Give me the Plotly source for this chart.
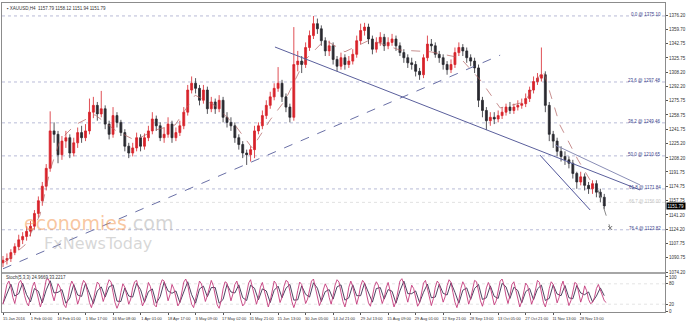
import plotly.graph_objects as go

# ---------------- data ----------------
opens = [1085, 1088, 1090, 1097, 1104, 1112, 1116,
         1122, 1128, 1143, 1158, 1175, 1196, 1240,
         1236, 1212, 1228, 1232, 1214, 1226, 1238,
         1232, 1240, 1262, 1270, 1260, 1266, 1248,
         1236, 1258, 1250, 1238, 1222, 1214, 1220,
         1232, 1222, 1232, 1240, 1254, 1246, 1232,
         1236, 1248, 1232, 1238, 1246, 1262, 1288,
         1296, 1290, 1276, 1288, 1266, 1274, 1266,
         1276, 1256, 1250, 1246, 1232, 1224, 1214,
         1212, 1218, 1240, 1246, 1258, 1270, 1280,
         1290, 1296, 1280, 1268, 1256, 1318, 1322,
         1318, 1338, 1352, 1366, 1360, 1346, 1334,
         1340, 1324, 1316, 1326, 1318, 1322, 1330,
         1346, 1358, 1362, 1348, 1336, 1344, 1350,
         1340, 1344, 1348, 1340, 1332, 1326, 1320,
         1318, 1310, 1306, 1326, 1342, 1340, 1330,
         1326, 1318, 1312, 1318, 1332, 1338, 1334,
         1326, 1322, 1314, 1276, 1264, 1252, 1256,
         1254, 1258, 1262, 1268, 1264, 1268, 1270,
         1272, 1278, 1288, 1298, 1302, 1306, 1270,
         1236, 1228, 1216, 1210, 1206, 1202, 1190,
         1180, 1186, 1176, 1172, 1178, 1168, 1162]

highs = [1093, 1096, 1101, 1108, 1118, 1121, 1128,
         1134, 1147, 1163, 1180, 1201, 1263, 1250,
         1240, 1234, 1240, 1236, 1232, 1244, 1246,
         1248, 1278, 1280, 1274, 1287, 1270, 1252,
         1268, 1262, 1253, 1242, 1226, 1226, 1238,
         1236, 1237, 1246, 1262, 1258, 1250, 1244,
         1256, 1252, 1244, 1252, 1268, 1294, 1304,
         1302, 1294, 1294, 1292, 1280, 1278, 1282,
         1280, 1262, 1256, 1250, 1236, 1228, 1218,
         1222, 1246, 1250, 1264, 1276, 1286, 1296,
         1315, 1300, 1284, 1272, 1362, 1334, 1328,
         1344, 1358, 1375, 1372, 1364, 1350, 1346,
         1344, 1328, 1332, 1330, 1328, 1336, 1352,
         1366, 1367, 1366, 1352, 1350, 1356, 1354,
         1350, 1354, 1352, 1344, 1336, 1330, 1326,
         1322, 1314, 1330, 1352, 1348, 1344, 1334,
         1330, 1322, 1324, 1338, 1344, 1342, 1338,
         1330, 1326, 1318, 1280, 1268, 1262, 1262,
         1264, 1268, 1272, 1274, 1272, 1276, 1278,
         1284, 1292, 1304, 1308, 1338, 1310, 1274,
         1240, 1232, 1222, 1216, 1210, 1206, 1192,
         1192, 1190, 1180, 1182, 1182, 1172, 1166]

lows = [1080, 1083, 1086, 1094, 1100, 1107, 1111,
        1116, 1124, 1138, 1152, 1170, 1192, 1226,
        1202, 1206, 1220, 1208, 1210, 1220, 1226,
        1228, 1236, 1255, 1252, 1256, 1242, 1230,
        1232, 1244, 1234, 1216, 1208, 1210, 1216,
        1216, 1218, 1228, 1236, 1240, 1228, 1226,
        1232, 1226, 1228, 1234, 1242, 1258, 1284,
        1284, 1270, 1272, 1260, 1262, 1260, 1262,
        1250, 1244, 1240, 1226, 1218, 1208, 1200,
        1204, 1208, 1236, 1242, 1254, 1266, 1276,
        1286, 1274, 1262, 1250, 1252, 1310, 1308,
        1314, 1334, 1348, 1354, 1340, 1328, 1328,
        1318, 1310, 1312, 1312, 1314, 1318, 1326,
        1342, 1352, 1342, 1330, 1332, 1340, 1334,
        1336, 1340, 1334, 1328, 1320, 1314, 1312,
        1304, 1300, 1302, 1322, 1334, 1326, 1320,
        1312, 1306, 1308, 1314, 1328, 1328, 1320,
        1316, 1308, 1268, 1256, 1241, 1246, 1248,
        1250, 1254, 1258, 1260, 1260, 1264, 1266,
        1268, 1274, 1284, 1294, 1298, 1262, 1228,
        1220, 1210, 1204, 1200, 1196, 1184, 1172,
        1176, 1170, 1166, 1166, 1162, 1156, 1148]

closes = [1088, 1090, 1097, 1104, 1112, 1116, 1122,
          1128, 1143, 1158, 1175, 1196, 1240, 1236,
          1212, 1228, 1232, 1214, 1226, 1238, 1232,
          1240, 1262, 1270, 1260, 1266, 1248, 1236,
          1258, 1250, 1238, 1222, 1214, 1220, 1232,
          1222, 1232, 1240, 1254, 1246, 1232, 1236,
          1248, 1232, 1238, 1246, 1262, 1288, 1296,
          1290, 1276, 1288, 1266, 1274, 1266, 1276,
          1256, 1250, 1246, 1232, 1224, 1214, 1212,
          1218, 1240, 1246, 1258, 1270, 1280, 1290,
          1296, 1280, 1268, 1256, 1318, 1322, 1318,
          1338, 1352, 1366, 1360, 1346, 1334, 1340,
          1324, 1316, 1326, 1318, 1322, 1330, 1346,
          1358, 1362, 1348, 1336, 1344, 1350, 1340,
          1344, 1348, 1340, 1332, 1326, 1320, 1318,
          1310, 1306, 1326, 1342, 1340, 1330, 1326,
          1318, 1312, 1318, 1332, 1338, 1334, 1326,
          1322, 1314, 1276, 1264, 1252, 1256, 1254,
          1258, 1262, 1268, 1264, 1268, 1270, 1272,
          1278, 1288, 1298, 1302, 1306, 1270, 1236,
          1228, 1216, 1210, 1206, 1202, 1190, 1180,
          1186, 1176, 1172, 1178, 1168, 1162, 1151.79]

tick_labels = ["15 Jan 2016", "1 Feb 00:00", "16 Feb 01:00", "1 Mar 17:00", "16 Mar 08:00",
               "1 Apr 01:00", "18 Apr 17:00", "3 May 09:00", "17 May 02:00", "31 May 21:00",
               "15 Jun 13:00", "30 Jun 05:00", "14 Jul 21:00", "29 Jul 13:00", "15 Aug 09:00",
               "29 Aug 01:00", "12 Sep 21:00", "28 Sep 13:00", "13 Oct 05:00", "27 Oct 21:00",
               "11 Nov 13:00", "28 Nov 13:00"]
bars_per_label = 7

price_ticks = [1376.20, 1359.70, 1342.75, 1325.75, 1308.20, 1292.20, 1275.75, 1258.75,
               1241.75, 1225.20, 1208.20, 1191.75, 1174.75, 1157.75, 1141.20, 1124.20,
               1107.75, 1090.75, 1074.20]

fib_names = ["0.0", "23.6", "38.2", "50.0", "61.8", "76.4"]
fib_values = [1375.10, 1297.48, 1249.46, 1210.65, 1171.84, 1123.82]
aux_level_name = "66.7"
aux_level_value = 1156.0
last_price = 1151.79

# drawn objects (bar index, price)
up_trend_x = [0, 126.5]
up_trend_y = [1078.0, 1329.0]
down_trend_x = [69.2, 162.1]
down_trend_y = [1338.6, 1170.6]
wedge_top_x = [140.5, 162.1]
wedge_top_y = [1223.4, 1176.5]
wedge_bot_x = [136.6, 149.4]
wedge_bot_y = [1211.7, 1147.1]
target_x = [151.4, 154.5]
target_y = [1170.6, 1125.9]
swing_x = [0.5, 5.6, 9.4, 12, 14.5, 18.3, 23.4, 28.5, 33.6, 38.7, 43.8, 48.9, 53.9, 59,
           63.4, 68, 71.8, 76.8, 81.9, 87, 93.4, 101, 108.7, 116.3, 121.4, 126.5, 132.8,
           137.4, 141.7, 146.3, 150.6]
swing_y = [1086, 1106, 1141, 1194, 1229, 1247, 1259, 1241, 1229, 1241, 1247, 1282, 1270, 1247,
           1220, 1253, 1276, 1323, 1347, 1333, 1347, 1335, 1333, 1326, 1300, 1267, 1274,
           1312, 1247, 1206, 1173]

stoch_main = [20, 45, 78, 88, 70, 40, 22, 50, 82, 90,
              75, 45, 25, 15, 40, 72, 85, 60, 30, 12,
              30, 65, 92, 95, 80, 50, 30, 55, 80, 70,
              40, 18, 10, 35, 70, 88, 76, 45, 20, 38,
              72, 90, 82, 55, 25, 10, 30, 62, 85, 78,
              50, 28, 45, 75, 92, 85, 55, 25, 8, 22,
              55, 80, 70, 42, 20, 35, 68, 86, 90, 65,
              35, 15, 28, 60, 84, 72, 40, 18, 12, 40,
              75, 92, 88, 60, 30, 48, 78, 65, 35, 15,
              25, 58, 85, 94, 78, 45, 20, 10, 38, 70,
              88, 80, 52, 28, 45, 72, 90, 75, 42, 18,
              8, 30, 65, 86, 82, 55, 30, 50, 78, 88,
              66, 35, 15, 22, 55, 82, 92, 70, 40, 20,
              40, 70, 84, 62, 32, 12, 30, 64, 88, 80,
              52, 25, 40, 72, 90, 86, 58, 28, 10, 28,
              60, 85, 78, 48, 22, 35, 66, 88, 94, 70,
              38, 16, 30, 62, 80, 68, 40, 20, 45, 76,
              92, 85, 55, 28, 12, 35, 70, 88, 72, 44,
              20, 42, 74, 90, 82, 50, 24, 14, 40, 72,
              86, 76, 46, 22, 38, 68, 84, 60, 30, 12,
              28, 62, 88, 95, 80, 48, 26, 50, 76, 66,
              36, 14, 24, 58, 82, 90, 66, 34, 16, 36,
              70, 88, 80, 50, 26, 42, 74, 92, 84, 54,
              26, 10, 32, 66, 86, 74, 44, 20, 38, 70,
              90, 86, 58, 30, 14, 36, 68, 84, 70, 40,
              18, 30, 62, 88, 94, 76, 44, 22, 46, 78,
              86, 62, 32, 12, 28, 60, 82, 74, 42, 20,
              36, 68, 90, 84, 54, 26, 12, 34, 66, 86,
              78, 48, 24, 40, 72, 88, 66, 36, 16, 30,
              62, 84, 80, 52, 26, 44, 74, 60, 34, 22,
              25, 40, 66, 78, 60, 44, 30, 25]

stoch_signal = [22, 48, 79, 44, 51, 82, 48, 27, 66, 58,
                24, 62, 89, 53, 55, 63, 23, 38, 78, 47,
                43, 81, 54, 22, 59, 71, 41, 71, 77, 29,
                28, 68, 44, 41, 81, 63, 26, 57, 65, 23,
                42, 85, 59, 52, 59, 25, 56, 86, 48, 23,
                65, 73, 42, 69, 69, 23, 34, 78, 56, 53,
                77, 39, 31, 76, 67, 33, 65, 59, 25, 61,
                73, 39, 67, 78, 32, 33, 74, 49, 41, 83,
                67, 28, 57, 63, 35, 71, 77, 32, 39, 77,
                45, 45, 82, 52, 26, 66, 69, 35, 63, 58,
                23, 59, 88, 51, 51, 59, 25, 55, 79, 39,
                41, 79, 52, 47, 83, 55, 23, 61, 68, 34,
                66, 78, 34, 39, 74, 43, 37, 81, 71, 37,
                70, 60, 24, 57, 66, 33, 65, 76, 31, 37,
                77, 50, 45, 75, 39, 36, 75, 53, 48, 56,
                27, 44, 68, 45]

stoch_label = "Stoch(5,3,3) 24.9669 33.2217"
header_label = "\u25aa XAUUSD,H4  1157.79 1158.12 1151.94 1151.79"

# ---------------- figure ----------------
bars = list(range(len(closes)))
stoch_x = [i * 0.5 for i in range(len(stoch_main))]
signal_x = list(range(len(stoch_signal)))
tick_pos = [bars_per_label * k for k in range(len(tick_labels))]

W, H = 698, 327
ML, MR, MT, MB = 2, 33, 3, 15
plot_h = H - MT - MB
plot_w = W - ML - MR
main_bottom = (H - MB - 272) / plot_h
osc_top = (H - MB - 274) / plot_h

x_range = [-0.254, 168.45]
y_range = [1074.2, 1390.3]
osc_range = [-2.9, 108.8]

fig = go.Figure()

fig.add_trace(go.Candlestick(
    x=bars, open=opens, high=highs, low=lows, close=closes,
    increasing=dict(line=dict(color="#d8232b", width=0.8), fillcolor="#d8232b"),
    decreasing=dict(line=dict(color="#2a2a30", width=0.8), fillcolor="#2a2a30"),
    whiskerwidth=0, xaxis="x", yaxis="y", showlegend=False, hoverinfo="skip"))

line_traces = [
    (swing_x, swing_y, "#b06060", "dash", 0.7),
    (up_trend_x, up_trend_y, "#6a70a6", "dash", 1),
    (down_trend_x, down_trend_y, "#5a5f9c", "solid", 1),
    (wedge_top_x, wedge_top_y, "#8a8eb6", "solid", 1),
    (wedge_bot_x, wedge_bot_y, "#50559a", "solid", 1),
    (target_x, target_y, "#8a8a8a", "dash", 1),
]
for xs, ys, col, dash, w in line_traces:
    fig.add_trace(go.Scatter(x=xs, y=ys, mode="lines", line=dict(color=col, dash=dash, width=w),
                             xaxis="x", yaxis="y", showlegend=False, hoverinfo="skip"))
fig.add_trace(go.Scatter(x=target_x[-1:], y=target_y[-1:], mode="markers",
                         marker=dict(symbol="x-thin", size=4, line=dict(color="#777", width=1)),
                         xaxis="x", yaxis="y", showlegend=False, hoverinfo="skip"))

fig.add_trace(go.Scatter(x=signal_x, y=stoch_signal, mode="lines",
                         line=dict(color="#3a3050", width=0.9), xaxis="x2", yaxis="y2",
                         showlegend=False, hoverinfo="skip"))
fig.add_trace(go.Scatter(x=stoch_x, y=stoch_main, mode="lines",
                         line=dict(color="#c43a7c", width=0.9), xaxis="x2", yaxis="y2",
                         showlegend=False, hoverinfo="skip"))

shapes = []
annotations = []
for name, val in zip(fib_names, fib_values):
    shapes.append(dict(type="line", xref="paper", x0=0, x1=1, yref="y", y0=val, y1=val,
                       line=dict(color="#9a9ec6", width=0.7, dash="dot"), layer="below"))
    annotations.append(dict(xref="paper", x=0.997, xanchor="right", yref="y", y=val,
                            yanchor="middle", yshift=1, text=f"{name} @ {val:.2f}",
                            showarrow=False, font=dict(size=4.5, color="#3b3f8c")))
shapes.append(dict(type="line", xref="paper", x0=0, x1=1, yref="y", y0=aux_level_value,
                   y1=aux_level_value, line=dict(color="#d4d4d4", width=0.7, dash="dot"),
                   layer="below"))
annotations.append(dict(xref="paper", x=0.997, xanchor="right", yref="y", y=aux_level_value,
                        yanchor="middle", yshift=1,
                        text=f"{aux_level_name} @ {aux_level_value:.2f}", showarrow=False,
                        font=dict(size=4.5, color="#c4c4c4")))
for lvl in (20, 80):
    shapes.append(dict(type="line", xref="paper", x0=0, x1=1, yref="y2", y0=lvl, y1=lvl,
                       line=dict(color="#d8d8d8", width=0.7, dash="dot"), layer="below"))
# separator between panels
shapes.append(dict(type="rect", xref="paper", x0=0, x1=1, yref="paper", y0=osc_top,
                   y1=main_bottom, fillcolor="#a6a6a6", line=dict(width=0)))

annotations.append(dict(xref="paper", x=1, xanchor="left", xshift=1, yref="y", y=last_price,
                        yanchor="middle", text=f"{last_price:.2f}", showarrow=False,
                        bgcolor="#000000", borderpad=0.6,
                        font=dict(size=4.5, color="#ffffff")))
annotations.append(dict(xref="paper", x=0.004, xanchor="left", yref="paper",
                        y=(H - MB - 9) / plot_h, yanchor="middle", text=header_label,
                        showarrow=False, font=dict(size=4.5, color="#333333")))
annotations.append(dict(xref="paper", x=0.003, xanchor="left", yref="paper",
                        y=(H - MB - 277) / plot_h, yanchor="middle", text=stoch_label,
                        showarrow=False, font=dict(size=4.5, color="#333333")))
annotations.append(dict(xref="paper", x=(98.5 - ML) / plot_w, xanchor="center",
                        yref="paper", y=(H - MB - 223) / plot_h, yanchor="middle",
                        text="<span style='color:rgba(243,150,80,0.55)'>economies</span>"
                             "<span style='color:rgba(170,170,170,0.5)'>.com</span>",
                        showarrow=False, font=dict(size=19, family="DejaVu Sans, Arial")))
annotations.append(dict(xref="paper", x=(98 - ML) / plot_w, xanchor="center",
                        yref="paper", y=(H - MB - 244) / plot_h, yanchor="middle",
                        text="FxNewsToday", showarrow=False,
                        font=dict(size=16, color="rgba(175,175,175,0.5)",
                                  family="DejaVu Sans, Arial")))

axis_common = dict(showgrid=False, zeroline=False, showline=True, mirror=True,
                   linecolor="#8c8c8c", linewidth=1)

fig.update_layout(
    width=W, height=H, margin=dict(l=ML, r=MR, t=MT, b=MB),
    paper_bgcolor="#ffffff", plot_bgcolor="#ffffff",
    font=dict(family="Liberation Sans, Arial, sans-serif", color="#333333"),
    showlegend=False, shapes=shapes, annotations=annotations,
    xaxis=dict(domain=[0, 1], anchor="y", range=x_range, showticklabels=False, ticks="",
               rangeslider=dict(visible=False), **axis_common),
    yaxis=dict(domain=[main_bottom, 1], anchor="x", range=y_range, side="right",
               tickvals=price_ticks, ticktext=[f"{v:.2f}" for v in price_ticks],
               tickfont=dict(size=4.5, color="#333333"), ticks="outside", ticklen=2,
               tickcolor="#555555", **axis_common),
    xaxis2=dict(domain=[0, 1], anchor="y2", range=x_range, matches="x",
                tickvals=tick_pos, ticktext=tick_labels, ticklabelshift=11,
                tickfont=dict(size=4, color="#333333"), ticks="outside", ticklen=2,
                tickcolor="#555555", tickangle=0, **axis_common),
    yaxis2=dict(domain=[0, osc_top], anchor="x2", range=osc_range, side="right",
                tickvals=[0, 20, 80, 100], ticktext=["0", "20", "80", "100"],
                tickfont=dict(size=4.5, color="#333333"), ticks="outside", ticklen=2,
                tickcolor="#555555", **axis_common),
)

fig.write_html("out.html", config={"displayModeBar": False})
